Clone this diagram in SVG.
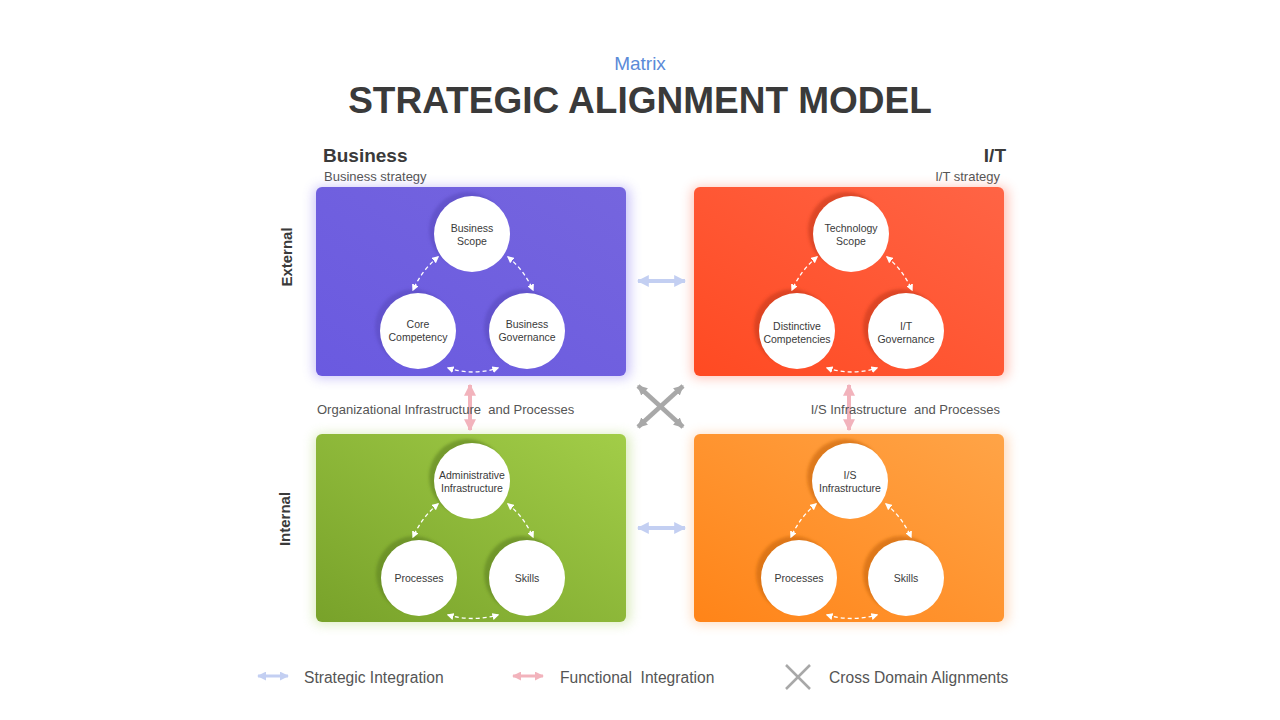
<svg xmlns="http://www.w3.org/2000/svg" width="1280" height="720" viewBox="0 0 1280 720">
<defs>
<style>
text{font-family:"Liberation Sans",Arial,sans-serif;white-space:pre;}
.ct{font-size:10.5px;fill:#3a3a3a;text-anchor:middle;}
.sub{font-size:13px;fill:#555;}
.head{font-size:19px;font-weight:bold;fill:#3a3a3a;}
.side{font-size:15px;font-weight:bold;fill:#3a3a3a;text-anchor:middle;}
.leg{font-size:15.6px;fill:#555;}
.circ{fill:#fff;}
.dash{fill:none;stroke:#fff;stroke-width:1.3;stroke-dasharray:4 3;marker-start:url(#wa);marker-end:url(#wa);}
.strat{stroke:#c3cff2;stroke-width:4;marker-start:url(#ba);marker-end:url(#ba);}
.func{stroke:#f2b3bc;stroke-width:4;marker-start:url(#pa);marker-end:url(#pa);}
.cross{stroke:#a8a8a8;stroke-width:4.5;marker-start:url(#ga);marker-end:url(#ga);}
</style>
<marker id="wa" viewBox="0 0 10 10" refX="8" refY="5" markerWidth="7" markerHeight="7" markerUnits="userSpaceOnUse" orient="auto-start-reverse"><path d="M0,0 L10,5 L0,10 Z" fill="#fff"/></marker>
<marker id="ba" viewBox="0 0 10 10" refX="9" refY="5" markerWidth="3" markerHeight="3" orient="auto-start-reverse"><path d="M0,0 L10,5 L0,10 Z" fill="#c3cff2"/></marker>
<marker id="pa" viewBox="0 0 10 10" refX="9" refY="5" markerWidth="3" markerHeight="3" orient="auto-start-reverse"><path d="M0,0 L10,5 L0,10 Z" fill="#f2b3bc"/></marker>
<marker id="ga" viewBox="0 0 10 10" refX="9" refY="5" markerWidth="2.2" markerHeight="2.2" orient="auto-start-reverse"><path d="M0,0 L10,5 L0,10 Z" fill="#a8a8a8"/></marker>
<linearGradient id="gP" x1="0" y1="1" x2="1" y2="0"><stop offset="0" stop-color="#6a5ae0"/><stop offset="1" stop-color="#7565de"/></linearGradient>
<linearGradient id="gR" x1="0" y1="1" x2="1" y2="0"><stop offset="0" stop-color="#ff4a22"/><stop offset="1" stop-color="#ff6445"/></linearGradient>
<linearGradient id="gG" x1="0" y1="1" x2="1" y2="0"><stop offset="0" stop-color="#78a22a"/><stop offset="1" stop-color="#a2cd48"/></linearGradient>
<linearGradient id="gO" x1="0" y1="1" x2="1" y2="0"><stop offset="0" stop-color="#ff8418"/><stop offset="1" stop-color="#ffa447"/></linearGradient>
<filter id="glow" x="-20%" y="-20%" width="140%" height="140%"><feGaussianBlur stdDeviation="6"/></filter>
<filter id="cs" x="-30%" y="-30%" width="160%" height="160%"><feGaussianBlur stdDeviation="1.5"/></filter>
</defs>
<rect width="1280" height="720" fill="#fff"/>

<text x="640" y="70" font-size="19" fill="#5b8ad8" text-anchor="middle">Matrix</text>
<text x="640" y="113" font-size="37" font-weight="bold" fill="#3a3a3a" text-anchor="middle">STRATEGIC ALIGNMENT MODEL</text>

<text class="head" x="323" y="162">Business</text>
<text class="sub" x="324" y="181">Business strategy</text>
<text class="head" x="1006" y="162" text-anchor="end">I/T</text>
<text class="sub" x="1000" y="181" text-anchor="end">I/T strategy</text>
<text class="side" transform="translate(292,257) rotate(-90)">External</text>
<text class="side" transform="translate(290,519) rotate(-90)">Internal</text>

<g id="business-strategy">
<rect x="314" y="187" width="316" height="191" rx="6" fill="#8a7cf0" opacity="0.45" filter="url(#glow)"/>
<rect x="316" y="187" width="310" height="189" rx="6" fill="url(#gP)"/>
<circle cx="467" cy="230" r="38" fill="#5a4cc0" opacity="0.6" filter="url(#cs)"/><circle class="circ" cx="472" cy="234" r="38"/>
<circle cx="413" cy="327" r="38" fill="#5a4cc0" opacity="0.6" filter="url(#cs)"/><circle class="circ" cx="418" cy="331" r="38"/>
<circle cx="522" cy="327" r="38" fill="#5a4cc0" opacity="0.6" filter="url(#cs)"/><circle class="circ" cx="527" cy="331" r="38"/>
<text class="ct" x="472" y="232">Business</text><text class="ct" x="472" y="245">Scope</text>
<text class="ct" x="418" y="328">Core</text><text class="ct" x="418" y="341">Competency</text>
<text class="ct" x="527" y="328">Business</text><text class="ct" x="527" y="341">Governance</text>
<path class="dash" d="M438,257 Q422,270 413,290"/>
<path class="dash" d="M508,257 Q524,270 533,290"/>
<path class="dash" d="M448,368 Q473,376 498,368"/>
</g>

<g id="it-strategy">
<rect x="692" y="187" width="316" height="191" rx="6" fill="#ff7a60" opacity="0.45" filter="url(#glow)"/>
<rect x="694" y="187" width="310" height="189" rx="6" fill="url(#gR)"/>
<circle cx="846" cy="230" r="38" fill="#c83a1c" opacity="0.6" filter="url(#cs)"/><circle class="circ" cx="851" cy="234" r="38"/>
<circle cx="792" cy="327" r="38" fill="#c83a1c" opacity="0.6" filter="url(#cs)"/><circle class="circ" cx="797" cy="331" r="38"/>
<circle cx="901" cy="327" r="38" fill="#c83a1c" opacity="0.6" filter="url(#cs)"/><circle class="circ" cx="906" cy="331" r="38"/>
<text class="ct" x="851" y="232">Technology</text><text class="ct" x="851" y="245">Scope</text>
<text class="ct" x="797" y="330">Distinctive</text><text class="ct" x="797" y="343">Competencies</text>
<text class="ct" x="906" y="330">I/T</text><text class="ct" x="906" y="343">Governance</text>
<path class="dash" d="M817,257 Q801,270 792,290"/>
<path class="dash" d="M887,257 Q903,270 912,290"/>
<path class="dash" d="M827,368 Q852,376 877,368"/>
</g>

<g id="organizational-infrastructure">
<rect x="314" y="434" width="316" height="190" rx="6" fill="#b0d470" opacity="0.45" filter="url(#glow)"/>
<rect x="316" y="434" width="310" height="188" rx="6" fill="url(#gG)"/>
<circle cx="467" cy="477" r="38" fill="#5e8220" opacity="0.6" filter="url(#cs)"/><circle class="circ" cx="472" cy="481" r="38"/>
<circle cx="414" cy="574" r="38" fill="#5e8220" opacity="0.6" filter="url(#cs)"/><circle class="circ" cx="419" cy="578" r="38"/>
<circle cx="522" cy="574" r="38" fill="#5e8220" opacity="0.6" filter="url(#cs)"/><circle class="circ" cx="527" cy="578" r="38"/>
<text class="ct" x="472" y="479">Administrative</text><text class="ct" x="472" y="492">Infrastructure</text>
<text class="ct" x="419" y="582">Processes</text>
<text class="ct" x="527" y="582">Skills</text>
<path class="dash" d="M438,504 Q422,517 413,537"/>
<path class="dash" d="M508,504 Q524,517 533,537"/>
<path class="dash" d="M448,615 Q473,622 498,615"/>
</g>

<g id="is-infrastructure">
<rect x="692" y="434" width="316" height="190" rx="6" fill="#ffb070" opacity="0.45" filter="url(#glow)"/>
<rect x="694" y="434" width="310" height="188" rx="6" fill="url(#gO)"/>
<circle cx="845" cy="477" r="38" fill="#c8660e" opacity="0.6" filter="url(#cs)"/><circle class="circ" cx="850" cy="481" r="38"/>
<circle cx="794" cy="574" r="38" fill="#c8660e" opacity="0.6" filter="url(#cs)"/><circle class="circ" cx="799" cy="578" r="38"/>
<circle cx="901" cy="574" r="38" fill="#c8660e" opacity="0.6" filter="url(#cs)"/><circle class="circ" cx="906" cy="578" r="38"/>
<text class="ct" x="850" y="479">I/S</text><text class="ct" x="850" y="492">Infrastructure</text>
<text class="ct" x="799" y="582">Processes</text>
<text class="ct" x="906" y="582">Skills</text>
<path class="dash" d="M816,504 Q800,517 791,537"/>
<path class="dash" d="M886,504 Q902,517 911,537"/>
<path class="dash" d="M827,615 Q852,622 877,615"/>
</g>

<g id="connectors">
<line class="strat" x1="638" y1="281" x2="685" y2="281"/>
<line class="strat" x1="638" y1="528" x2="685" y2="528"/>
<line class="func" x1="470" y1="385" x2="470" y2="430"/>
<line class="func" x1="849" y1="385" x2="849" y2="430"/>
<line class="cross" x1="638" y1="386" x2="683" y2="427"/>
<line class="cross" x1="683" y1="386" x2="638" y2="427"/>
</g>

<text class="sub" x="317" y="414">Organizational Infrastructure  and Processes</text>
<text class="sub" x="1000" y="414" text-anchor="end">I/S Infrastructure  and Processes</text>

<g id="legend">
<line class="strat" x1="258" y1="676" x2="288" y2="676" style="stroke-width:3"/>
<text class="leg" x="304" y="683">Strategic Integration</text>
<line class="func" x1="513" y1="676" x2="543" y2="676" style="stroke-width:3"/>
<text class="leg" x="560" y="683">Functional  Integration</text>
<line x1="786" y1="665" x2="810" y2="689" stroke="#a8a8a8" stroke-width="2.5"/>
<line x1="810" y1="665" x2="786" y2="689" stroke="#a8a8a8" stroke-width="2.5"/>
<text class="leg" x="829" y="683">Cross Domain Alignments</text>
</g>
</svg>
